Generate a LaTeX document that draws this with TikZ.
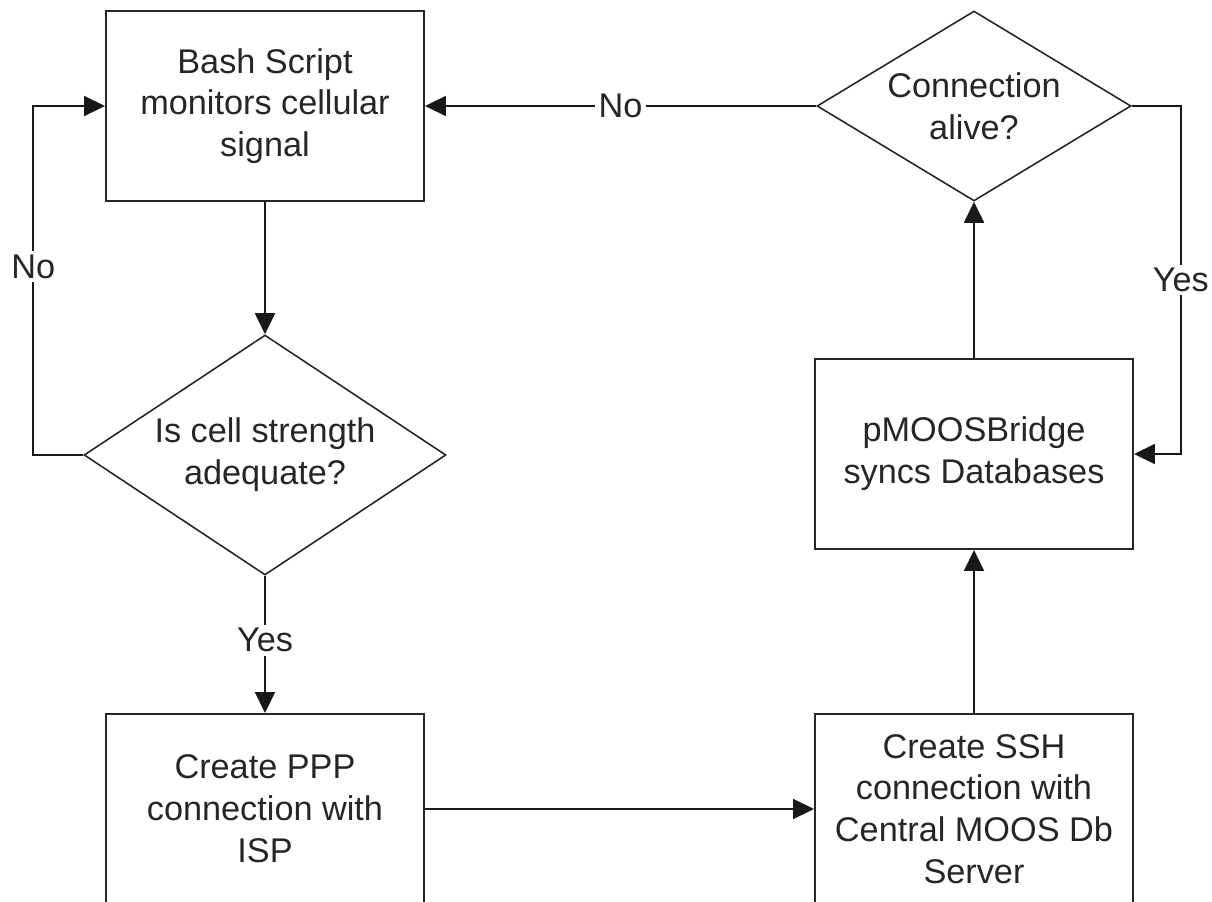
\documentclass[tikz,border=0pt]{standalone}
\usepackage{fontspec}
\setmainfont{Liberation Sans}
\usetikzlibrary{arrows.meta,shapes.geometric}

\begin{document}
\begin{tikzpicture}[
    every node/.style={font=\fontsize{19.5}{23.8}\selectfont, text=black!85},
    procbox/.style={draw=black!85, line width=1.1pt, align=center, minimum width=6.36cm, minimum height=3.80cm, inner sep=2pt},
    decision/.style={diamond, draw=black!85, line width=0.9pt, align=center, inner sep=0pt},
    lbl/.style={fill=white, inner sep=2pt},
    flow/.style={-{Triangle[length=4.2mm, width=4.0mm]}, line width=1.1pt, draw=black!90}
  ]
    \useasboundingbox (0,0) rectangle (24.24,-18.04);

    \node[procbox] (bash) at (5.30,-2.12) {Bash Script\\monitors cellular\\signal};
    \node[decision, shape aspect=1.51, minimum width=7.24cm, minimum height=4.80cm] (cell) at (5.30,-9.10) {Is cell strength\\adequate?};
    \node[procbox] (ppp) at (5.30,-16.18) {Create PPP\\connection with\\ISP};

    \node[procbox] (ssh) at (19.48,-16.18) {Create SSH\\connection with\\Central MOOS Db\\Server};
    \node[procbox] (bridge) at (19.48,-9.08) {pMOOSBridge\\syncs Databases};
    \node[decision, shape aspect=1.65, minimum width=6.28cm, minimum height=3.80cm] (alive) at (19.48,-2.12) {Connection\\alive?};

    \draw[flow] (bash.south) -- (cell.north);
    \draw[flow] (cell.west) -- ++(-1.0,0) |- node[lbl, pos=0.27] {No} (bash.west);
    \draw[flow] (cell.south) -- node[lbl, pos=0.47] {Yes} (ppp.north);
    \draw[flow] (ppp.east) -- (ssh.west);
    \draw[flow] (ssh.north) -- (bridge.south);
    \draw[flow] (bridge.north) -- (alive.south);
    \draw[flow] (alive.west) -- node[lbl, pos=0.5] {No} (bash.east);
    \draw[flow] (alive.east) -- ++(0.98,0) |- node[lbl, pos=0.25] {Yes} (bridge.east);
  \end{tikzpicture}
\end{document}
